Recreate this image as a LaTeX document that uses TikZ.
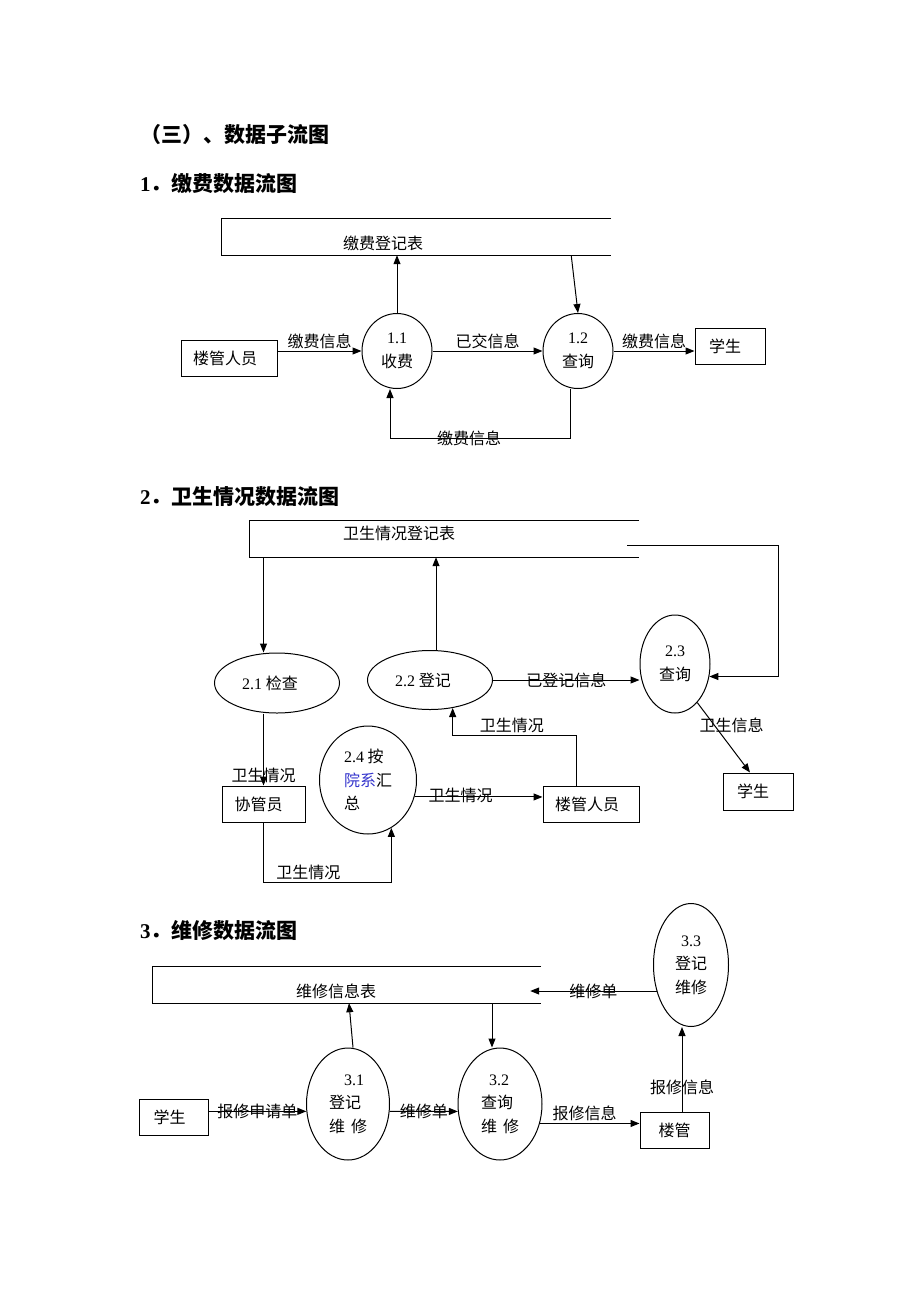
\documentclass[tikz,border=0pt]{standalone}
\usepackage{fontspec}
\setmainfont{Liberation Serif}
\newfontfamily\cjk{Noto Sans CJK SC}
\usetikzlibrary{arrows.meta,shapes.geometric,positioning,calc}
\definecolor{deptblue}{RGB}{51,51,204}
\newcommand{\dg}[1]{{\rmfamily #1}} % digits in serif
\tikzset{x=1pt, y=-1pt, % one unit is one pixel of the page, y runs down
        every node/.style={ % Default text of all labels
            font=\cjk\fontsize{16}{23.5}\selectfont,
            inner sep=2pt},
        process/.style={ % Processes are ellipses
            ellipse, draw, line width=1pt,
            inner sep=0pt, align=center},
        entity/.style={ % External entities are boxes
            rectangle, draw, line width=1pt,
            minimum height=36pt},
        store/.style={ % Data stores, drawn open on the right
            rectangle, inner sep=0pt, minimum height=36pt},
        storeline/.style={line width=1pt},
        heading/.style={anchor=west, inner sep=0pt,
            font=\cjk\bfseries\fontsize{21}{25}\selectfont},
        flow/.style={draw, line width=1pt,
            -{Triangle[length=9pt,width=7pt]}},
        every edge/.style={flow} % Sets the properties for each data flow
        }
\begin{document}
\begin{tikzpicture}
    \useasboundingbox (0,0) rectangle (920,1302);

    \node[heading] (h0) at (140,135) {（三）、数据子流图};
    \node[heading] (h1) at (140,184) {\dg{1}．缴费数据流图};
    \node[heading] (h2) at (140,497) {\dg{2}．卫生情况数据流图};
    \node[heading] (h3) at (140,931) {\dg{3}．维修数据流图};

    % 1. fees
    \node[store, minimum width=389pt] (ds1) at (416.5,237) {};
    \draw[storeline] (ds1.north east) -- (ds1.north west) -- (ds1.south west) -- (ds1.south east);
    \node (ds1txt) at (383,243) {缴费登记表};
    \node[entity, minimum width=96pt] (lg1) at (229,358) {\hspace*{-8pt}楼管人员};
    \node[process, minimum width=70pt, minimum height=75pt] (p11) at (397,351) {\dg{1.1}\\收费};
    \node[process, minimum width=70pt, minimum height=75pt] (p12) at (578,351) {\dg{1.2}\\查询};
    \node[entity, minimum width=70pt] (st1) at (730,346) {\hspace*{-10pt}学生};

    \draw (lg1.east |- p11) edge node[above] {缴费信息} (p11);
    \draw (p11) edge node[above] {已交信息} (p12);
    \draw (p12) edge node[above] {缴费信息} (st1.west |- p12);
    \draw (p11.north) edge (p11.north |- ds1.south);
    \draw ([xshift=-40pt]ds1.south east) edge (p12.north);
    \coordinate (fb1) at ([xshift=-7pt]p11.south);
    \coordinate (fb2) at ([xshift=-8pt]p12.south);
    \draw[flow] (fb2) -- ++(0,49) -| node[pos=0.28] {缴费信息} (fb1);

    % 2. hygiene
    \node[store, minimum width=389pt] (ds2) at (444.5,539) {};
    \draw[storeline] (ds2.north east) -- (ds2.north west) -- (ds2.south west) -- (ds2.south east);
    \node (ds2txt) at (399,533) {卫生情况登记表};
    \node[process, minimum width=125pt, minimum height=60pt] (p21) at (277,683) {\hspace*{-14pt}\dg{2.1} 检查};
    \node[process, minimum width=125pt, minimum height=59pt] (p22) at (430,680) {\hspace*{-14pt}\dg{2.2} 登记};
    \node[process, minimum width=70pt, minimum height=98pt] (p23) at (675,664) {\dg{2.3}\\查询};
    \node[process, minimum width=97pt, minimum height=108pt, align=left] (p24) at (368,780)
        {\dg{2.4} 按\\\textcolor{deptblue}{院系}汇\\总};
    \node[entity, minimum width=83pt] (xg) at (263.5,804) {\hspace*{-10pt}协管员};
    \node[entity, minimum width=96pt] (lg2) at (591,804) {\hspace*{-8pt}楼管人员};
    \node[entity, minimum width=70pt, minimum height=37pt] (st2) at (758,791.5) {\hspace*{-10pt}学生};

    \draw (xg.north |- ds2.south) edge (xg.north |- p21.north);
    \draw (xg.north |- p21.south) edge node[pos=1, above] {卫生情况} (xg.north);
    \coordinate (up22) at ([xshift=6pt]p22.north);
    \draw (up22) edge (up22 |- ds2.south);
    \draw (p22) edge node {已登记信息} (p22 -| p23.west);
    \coordinate (ds2out) at ([shift={(-12,6)}]ds2.east);
    \draw[flow] (ds2out) -- ++(151,0) |- (p23.-20);
    \draw (p23.-60) edge node[pos=0.33, xshift=17pt] {卫生信息} ([xshift=-8pt]st2.north);
    \draw[flow] (xg.south) -- ++(0,60) -| node[pos=0.175, above] {卫生情况} (p24.-64);
    \draw (p24.-20) edge node[pos=0.36, yshift=2pt] {卫生情况} (p24.-20 -| lg2.west);
    \coordinate (lg2up) at ([xshift=-15pt]lg2.north);
    \draw[flow] (lg2up) -- ++(0,-50) -| node[pos=0.26, above] {卫生情况} (p22.-51);

    % 3. repairs
    \node[store, minimum width=388pt] (ds3) at (347,985) {};
    \draw[storeline] (ds3.north east) -- (ds3.north west) -- (ds3.south west) -- (ds3.south east);
    \node (ds3txt) at (336,991) {维修信息表};
    \node[process, minimum width=75pt, minimum height=123pt] (p33) at (691,965) {\dg{3.3}\\登记\\维修};
    \node[process, minimum width=83pt, minimum height=112pt, align=left] (p31) at (348,1104)
        {\hspace*{15pt}\dg{3.1}\\登记\\维\hspace*{6pt}修};
    \node[process, minimum width=84pt, minimum height=112pt, align=left] (p32) at (500,1104)
        {\hspace*{8pt}\dg{3.2}\\查询\\维\hspace*{6pt}修};
    \node[entity, minimum width=69pt] (st3) at (173.5,1117) {\hspace*{-8pt}学生};
    \node[entity, minimum width=69pt] (lg3) at (674.5,1130) {楼管};

    \coordinate (ds3in) at ([xshift=-11pt]ds3.east);
    \draw (p33.217) edge node {维修单} (p33.217 -| ds3in);
    \draw ([xshift=5pt]p31.north) edge ([xshift=2pt]ds3.south);
    \coordinate (dn32) at ([xshift=-8pt]p32.north);
    \draw (dn32 |- ds3.south) edge (dn32);
    \draw (st3.east |- p31.190) edge node {报修申请单} (p31.190);
    \draw (p31.-10) edge node {维修单} (p32.190);
    \draw (p32.-26) edge node[above, pos=0.45] {报修信息} (p32.-26 -| lg3.west);
    \coordinate (up33) at ([xshift=7.5pt]lg3.north);
    \draw (up33) edge node[pos=0.29] {报修信息} (up33 |- p33.south);
\end{tikzpicture}
\end{document}
